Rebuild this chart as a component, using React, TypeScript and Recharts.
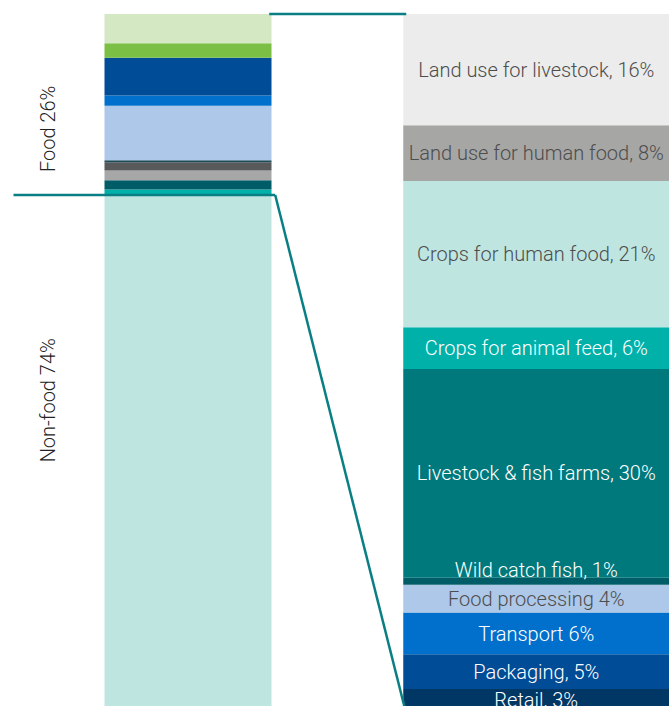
import React from "react";
import {
  Bar,
  BarChart,
  LabelList,
  ReferenceLine,
  XAxis,
  YAxis,
} from "recharts";

// right column: breakdown of the food share, top to bottom
const stages = [
  "Land use for livestock",
  "Land use for human food",
  "Crops for human food",
  "Crops for animal feed",
  "Livestock & fish farms",
  "Wild catch fish",
  "Food processing",
  "Transport",
  "Packaging",
  "Retail",
];
const stageShares = [16, 8, 21, 6, 30, 1, 4, 6, 5, 3];
const stageLabels = [
  "Land use for livestock, 16%",
  "Land use for human food, 8%",
  "Crops for human food, 21%",
  "Crops for animal feed, 6%",
  "Livestock & fish farms, 30%",
  "Wild catch fish, 1%",
  "Food processing 4%",
  "Transport 6%",
  "Packaging, 5%",
  "Retail, 3%",
];
const stageColors = [
  "#ebeceb",
  "#a6a6a5",
  "#bfe5e1",
  "#00b1aa",
  "#00797d",
  "#005c66",
  "#adc8e8",
  "#0070cc",
  "#004c97",
  "#003764",
];
const stageTextColors = [
  "#4d4d4d",
  "#4d4d4d",
  "#4d4d4d",
  "#ffffff",
  "#ffffff",
  "#ffffff",
  "#4d4d4d",
  "#ffffff",
  "#ffffff",
  "#ffffff",
];

// left column: food slices (top to bottom) then non-food
const foodSlices = [4.2, 2.1, 5.4, 1.5, 7.8, 0.3, 1.2, 1.4, 1.3, 0.8];
const foodColors = [
  "#d5e8c4",
  "#7bbf45",
  "#004c97",
  "#0070cc",
  "#adc8e8",
  "#1f4d57",
  "#58595b",
  "#a7a7a7",
  "#005c66",
  "#00b0aa",
];
const nonFoodShare = 74;
const nonFoodColor = "#bfe5e1";

const sideLabels = ["Food 26%", "Non-food 74%"];
const sideLabelPos = [83.5, 44.5];

const lineColor = "#0a7f83";

const leftRow: Record<string, any> = { name: "all", nonfood: nonFoodShare };
foodSlices.forEach((v, i) => (leftRow["f" + i] = v));
const rightRow: Record<string, any> = { name: "food" };
stageShares.forEach((v, i) => (rightRow["s" + i] = v));
const data = [leftRow, rightRow];

const FONT = "Roboto, 'Liberation Sans', sans-serif";

// bracket points, x as a fraction of the plot width
const bracketTop = [0.3666, 0.5631];
const bracketLow = [0, 0.3752, 0.5617];

const SideLabel = (props: any) => {
  const { viewBox, text } = props;
  const x = 48;
  const y = viewBox.y;
  return (
    <text
      x={x}
      y={y}
      transform={`rotate(-90, ${x}, ${y})`}
      textAnchor="middle"
      dominantBaseline="central"
      fill="#222"
      fontSize={20}
      fontWeight={300}
      fontFamily={FONT}
    >
      {text}
    </text>
  );
};

export default function App() {
  const order = stages.map((_, i) => i).reverse();
  const foodOrder = foodSlices.map((_, i) => i).reverse();
  return (
    <div
      style={{
        position: "absolute",
        left: 0,
        top: 0,
        width: 669,
        height: 706,
        overflow: "hidden",
        background: "#fff",
        fontFamily: FONT,
      }}
    >
      <BarChart
        width={711}
        height={730}
        data={data}
        margin={{ top: 14, right: 0, left: 13.5, bottom: 20 }}
      >
        <XAxis xAxisId="L" dataKey="name" hide />
        <XAxis xAxisId="R" dataKey="name" hide />
        <XAxis
          xAxisId="pos"
          type="number"
          domain={[0, 1]}
          allowDataOverflow
          hide
        />
        <YAxis domain={[0, 100]} hide />
        <Bar
          xAxisId="L"
          dataKey="nonfood"
          stackId="L"
          barSize={167}
          fill={nonFoodColor}
          isAnimationActive={false}
        />
        {foodOrder.map((i) => (
          <Bar
            key={"f" + i}
            xAxisId="L"
            dataKey={"f" + i}
            stackId="L"
            barSize={167}
            fill={foodColors[i]}
            isAnimationActive={false}
          />
        ))}
        {order.map((i) => (
          <Bar
            key={"s" + i}
            xAxisId="R"
            dataKey={"s" + i}
            stackId="R"
            barSize={266}
            fill={stageColors[i]}
            isAnimationActive={false}
          >
            <LabelList
              dataKey={"s" + i}
              position={stages[i] === "Wild catch fish" ? "top" : "center"}
              offset={1}
              formatter={() => stageLabels[i]}
              fill={stageTextColors[i]}
              fontSize={20}
              fontWeight={300}
              fontFamily={FONT}
            />
          </Bar>
        ))}
        {sideLabels.map((t, i) => (
          <ReferenceLine
            key={t}
            xAxisId="pos"
            y={sideLabelPos[i]}
            stroke="none"
            label={<SideLabel text={t} />}
          />
        ))}
        <ReferenceLine
          xAxisId="pos"
          segment={[
            { x: bracketTop[0], y: 100 },
            { x: bracketTop[1], y: 100 },
          ]}
          stroke={lineColor}
          strokeWidth={2.5}
          ifOverflow="visible"
        />
        <ReferenceLine
          xAxisId="pos"
          segment={[
            { x: bracketLow[0], y: nonFoodShare },
            { x: bracketLow[1], y: nonFoodShare },
          ]}
          stroke={lineColor}
          strokeWidth={2.5}
          ifOverflow="visible"
        />
        <ReferenceLine
          xAxisId="pos"
          segment={[
            { x: bracketLow[1], y: nonFoodShare },
            { x: bracketLow[2], y: 0 },
          ]}
          stroke={lineColor}
          strokeWidth={2.5}
          ifOverflow="visible"
        />
      </BarChart>
    </div>
  );
}
